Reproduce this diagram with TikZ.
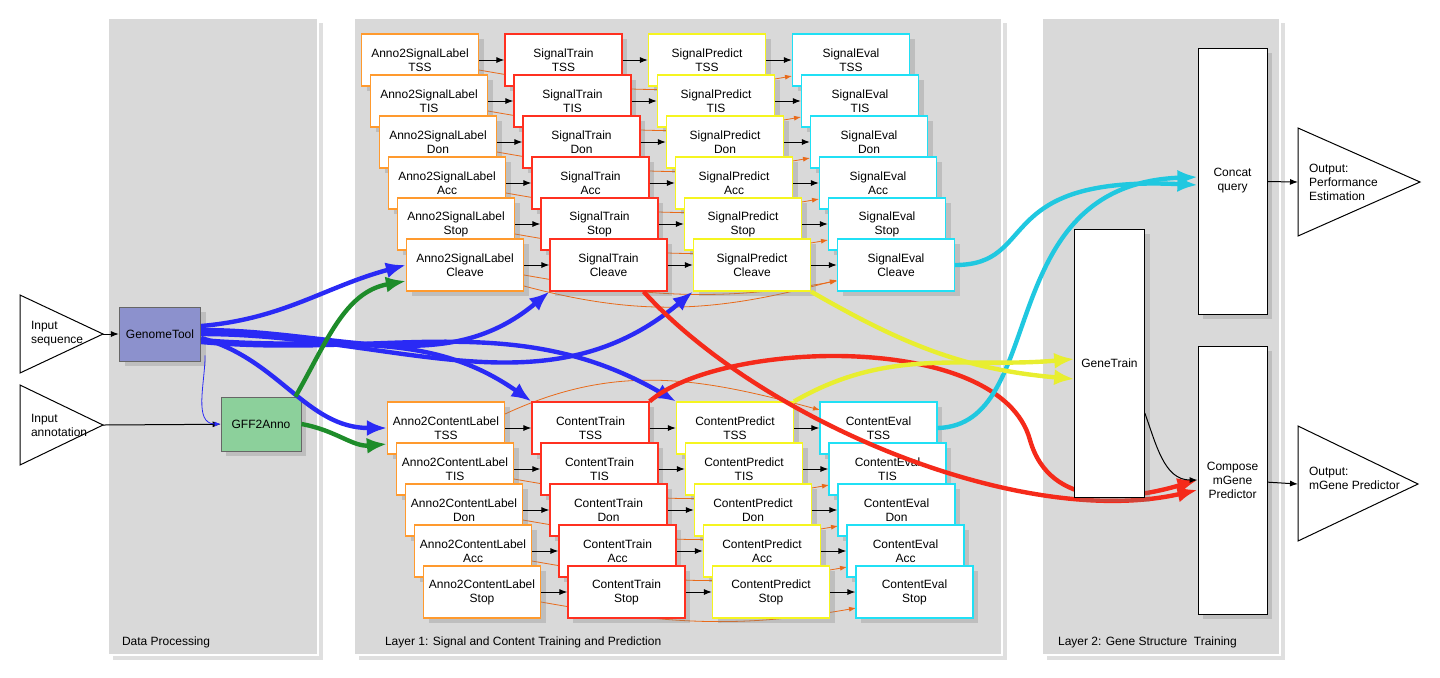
\documentclass[tikz,border=0pt]{standalone}
\usepackage{fontspec}
\setmainfont{Liberation Sans}
\usetikzlibrary{arrows.meta,shadows}
\definecolor{panelgray}{HTML}{D9D9D9}
\definecolor{boxorange}{HTML}{FF9A2E}
\definecolor{boxred}{HTML}{FF3020}
\definecolor{boxyellow}{HTML}{F5F520}
\definecolor{boxcyan}{HTML}{20E0F5}
\definecolor{lineorange}{HTML}{E86A1A}
\definecolor{thickblue}{HTML}{2A2AF5}
\definecolor{thickgreen}{HTML}{1E8C2A}
\definecolor{thickred}{HTML}{F52A1A}
\definecolor{thickyellow}{HTML}{E8EE30}
\definecolor{thickcyan}{HTML}{20C8E0}
\definecolor{toolblue}{HTML}{8C91CD}
\definecolor{toolgreen}{HTML}{8CD09B}
\tikzset{
  panel/.style={rectangle, fill=panelgray, draw=white, line width=0.8pt, drop shadow={opacity=0.25}},
  jobbox/.style={rectangle, fill=white, draw=#1, line width=0.6pt, minimum width=58.5pt, minimum height=26pt, align=center, inner sep=1pt, drop shadow={opacity=0.3}},
  toolbox/.style={rectangle, fill=#1, draw=black!60, line width=0.4pt, minimum width=40pt, minimum height=27pt, drop shadow={opacity=0.3}},
  tallbox/.style={rectangle, fill=white, draw=black, line width=0.5pt, minimum width=34.5pt, align=center, drop shadow={opacity=0.3}},
  flow/.style={-{Latex[length=4pt,width=3pt]}, black, line width=0.5pt},
  skip/.style={-{Latex[length=3.5pt,width=2.5pt]}, lineorange, line width=0.4pt},
  fat/.style={-{Latex[length=10pt,width=8pt]}, #1, line width=2.2pt},
  paneltext/.style={anchor=west, font=\fontsize{6}{7}\selectfont}
}
\begin{document}
\begin{tikzpicture}[x=0.5pt, y=-0.5pt, font=\fontsize{6}{7}\selectfont]
\useasboundingbox (0,0) rectangle (1440,677);

%Panels
\node (dataPanel) at (213,336.5) [panel, minimum width=105pt, minimum height=318.5pt]{};
\node (layerOne) at (678,336.5) [panel, minimum width=324pt, minimum height=318.5pt]{};
\node (layerTwo) at (1161,336.5) [panel, minimum width=119pt, minimum height=318.5pt]{};
\node at (115,642) [paneltext]{Data Processing};
\node at (378,642) [paneltext]{Layer 1: Signal and Content Training and Prediction};
\node at (1051,642) [paneltext]{Layer 2: Gene Structure\ \ Training};

%Orange skip lines, behind the boxes
\foreach \r in {0,...,5}{
  \draw[skip] (479+9*\r,70+41*\r) to[out=-10,in=190] (792+9*\r,76+41*\r);
}
\draw[skip] (524,286) to[out=-15,in=195] (837,280);
\foreach \r in {1,...,4}{
  \draw[skip] (505+9*\r,438+41*\r) to[out=-10,in=190] (820+9*\r,444+41*\r);
}
\draw[skip] (505,414) to[out=25,in=165] (820,410);

%Signal rows
\foreach \lbl [count=\r from 0] in {TSS,TIS,Don,Acc,Stop,Cleave}{
  \node (sigA\r) at (420+9*\r,60+41*\r) [jobbox=boxorange]{Anno2SignalLabel\\\lbl};
  \node (sigT\r) at (563.5+9*\r,60+41*\r) [jobbox=boxred]{SignalTrain\\\lbl};
  \node (sigP\r) at (707+9*\r,60+41*\r) [jobbox=boxyellow]{SignalPredict\\\lbl};
  \node (sigE\r) at (851+9*\r,60+41*\r) [jobbox=boxcyan]{SignalEval\\\lbl};
  \draw[flow] (sigA\r) -- (sigT\r);
  \draw[flow] (sigT\r) -- (sigP\r);
  \draw[flow] (sigP\r) -- (sigE\r);
}

%Content rows
\foreach \lbl [count=\r from 0] in {TSS,TIS,Don,Acc,Stop}{
  \node (conA\r) at (446+9*\r,428+41*\r) [jobbox=boxorange]{Anno2ContentLabel\\\lbl};
  \node (conT\r) at (590.5+9*\r,428+41*\r) [jobbox=boxred]{ContentTrain\\\lbl};
  \node (conP\r) at (735+9*\r,428+41*\r) [jobbox=boxyellow]{ContentPredict\\\lbl};
  \node (conE\r) at (878.5+9*\r,428+41*\r) [jobbox=boxcyan]{ContentEval\\\lbl};
  \draw[flow] (conA\r) -- (conT\r);
  \draw[flow] (conT\r) -- (conP\r);
  \draw[flow] (conP\r) -- (conE\r);
}

%Inputs
\draw[fill=white, line width=0.5pt] (20,295) -- (103,334) -- (20,373) -- cycle;
\draw[fill=white, line width=0.5pt] (20,385) -- (103,425) -- (20,465) -- cycle;
\coordinate (seqTip) at (103,334);
\coordinate (annoTip) at (103,425);
\node (inSeq) at (24,334) [anchor=west, align=left]{Input\\sequence};
\node (inAnno) at (24,425) [anchor=west, align=left]{Input\\annotation};

%Data processing tools
\node (genomeTool) at (160,334) [toolbox=toolblue]{GenomeTool};
\node (gffAnno) at (261,424) [toolbox=toolgreen]{GFF2Anno};
\draw[flow] (seqTip) -- (genomeTool);
\draw[flow] (annoTip) -- (gffAnno);
\draw[-{Latex[length=3pt,width=2.5pt]}, thickblue, line width=0.4pt] (genomeTool.south east) ++(4,-6) to[out=-90,in=180] (gffAnno.west);

%Layer 2
\node (concat) at (1232.5,181) [tallbox, minimum height=133pt]{Concat\\query};
\node (compose) at (1232.5,480) [tallbox, minimum height=134pt]{Compose\\mGene\\Predictor};
\draw[fill=white, line width=0.5pt] (1298,128) -- (1420,182) -- (1298,236) -- cycle;
\draw[fill=white, line width=0.5pt] (1298,426) -- (1418,484) -- (1298,541) -- cycle;
\coordinate (perfBase) at (1298,182);
\coordinate (predBase) at (1298,484);
\node (outPerf) at (1302,182) [anchor=west, align=left]{Output:\\Performance\\Estimation};
\node (outPred) at (1302,478) [anchor=west, align=left]{Output:\\mGene Predictor};
\draw[flow] (concat) -- (perfBase);
\draw[flow] (compose) -- (predBase);

%Thick connectors
\draw[fat=thickblue] (genomeTool.east) ++(0,-8) to[out=5,in=195] (sigA5.west);
\draw[fat=thickblue] (genomeTool.east) ++(0,-4) to[out=0,in=-140] (sigT5.south west);
\draw[fat=thickblue] (genomeTool.east) to[out=0,in=-140] (sigP5.south west);
\draw[fat=thickblue] (genomeTool.east) ++(0,4) to[out=-15,in=180] (conA0.west);
\draw[fat=thickblue] (genomeTool.east) ++(0,6) to[out=-5,in=145] (conT0.north west);
\draw[fat=thickblue] (genomeTool.east) ++(0,8) to[out=-5,in=150] (conP0.north west);
\draw[fat=thickgreen] (gffAnno.north east) ++(-6,0) to[out=60,in=190] ([yshift=-8]sigA5.west);
\draw[fat=thickgreen] (gffAnno.east) to[out=-10,in=185] ([yshift=-8]conA0.west);
\draw[fat=thickred] ([xshift=-12]sigT5.south east) .. controls (760,420) and (1020,530) .. ([yshift=-5]compose.west);
\draw[fat=thickred] (conT0.north east) .. controls (720,340) and (1000,330) .. (1030,440) .. controls (1050,510) and (1130,500) .. (compose.west);
\draw[fat=thickcyan] (sigE5.east) .. controls (1040,265) and (990,175) .. ([yshift=-2]concat.west);
\draw[fat=thickcyan] (conE0.east) .. controls (1050,425) and (990,185) .. ([yshift=2]concat.west);

%Gene training
\node (geneTrain) at (1109.5,363) [tallbox, minimum height=134pt]{GeneTrain};
\draw[fat=thickyellow] (sigP5.south east) to[out=-30,in=175] ([yshift=-8]geneTrain.west);
\draw[fat=thickyellow] (conP0.north east) to[out=30,in=185] ([yshift=2]geneTrain.west);
\draw[flow] (geneTrain.east) ++(0,50) to[out=-70,in=180] (compose.west);
\end{tikzpicture}
\end{document}
